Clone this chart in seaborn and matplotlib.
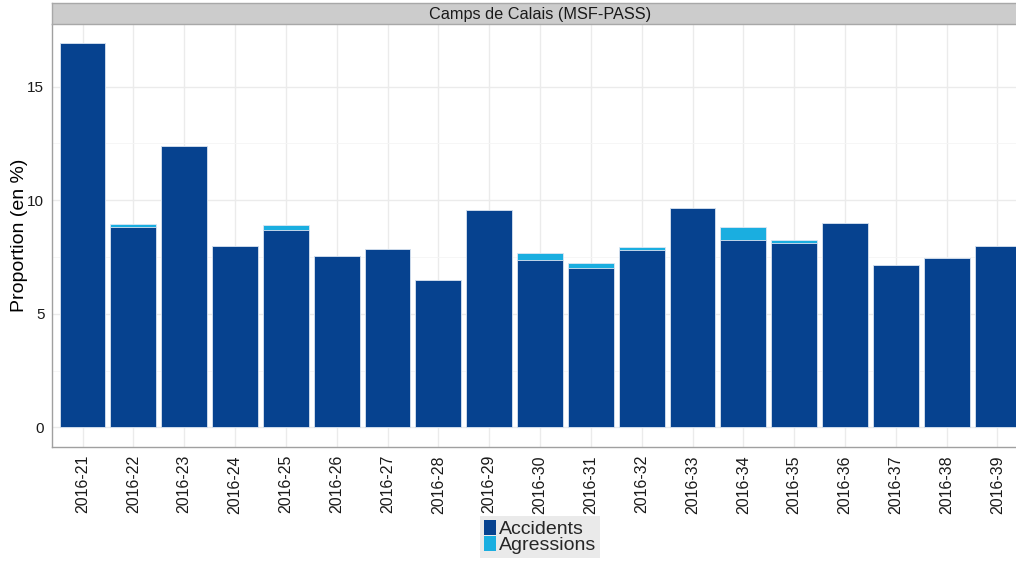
import numpy as np
import pandas as pd
import matplotlib
matplotlib.use("Agg")
import matplotlib.pyplot as plt
import matplotlib.patches as mpatches
import seaborn as sns

# ── Data ───────────────────────────────────────────────────────────────────
weeks = ["2016-21", "2016-22", "2016-23", "2016-24", "2016-25", "2016-26",
         "2016-27", "2016-28", "2016-29", "2016-30", "2016-31", "2016-32",
         "2016-33", "2016-34", "2016-35", "2016-36", "2016-37", "2016-38",
         "2016-39"]
accidents = [16.91, 8.84, 12.37, 7.99, 8.70, 7.54, 7.86, 6.48, 9.57, 7.35,
             7.03, 7.80, 9.67, 8.26, 8.12, 9.00, 7.14, 7.45, 7.98]
agressions = [0.0, 0.12, 0.0, 0.0, 0.20, 0.0, 0.0, 0.0, 0.0, 0.32,
              0.19, 0.15, 0.0, 0.57, 0.15, 0.0, 0.0, 0.0, 0.0]
title = "Camps de Calais (MSF-PASS)"

DARK = "#06428F"
LIGHT = "#1AAEE0"

df = pd.DataFrame({"semaine": weeks, "Accidents": accidents,
                   "Agressions": agressions})
df["total"] = df["Accidents"] + df["Agressions"]

sns.set_theme(style="white")
plt.rcParams["font.family"] = ["Liberation Sans", "DejaVu Sans"]

fig = plt.figure(figsize=(10.16, 5.62), dpi=100)
W, H = 1016, 562
left, right, top, bottom = 52, 1028, 24, 446.7
ax = fig.add_axes([left / W, 1 - bottom / H, (right - left) / W, (bottom - top) / H])

# stacked bars: total (light) underneath, accidents (dark) on top
sns.barplot(data=df, x="semaine", y="total", color=LIGHT, width=0.9,
            saturation=1, edgecolor="#dde6f2", linewidth=0.6, ax=ax, zorder=3)
sns.barplot(data=df, x="semaine", y="Accidents", color=DARK, width=0.9,
            saturation=1, edgecolor="#dde6f2", linewidth=0.6, ax=ax, zorder=4)

ymax = max(df["total"])
pad = ymax * 0.05
ax.set_ylim(-pad, ymax + pad)
ax.set_xlim(-0.6, len(weeks) - 0.4)

# grid in ggplot style
ax.set_yticks([0, 5, 10, 15])
ax.set_yticks([2.5, 7.5, 12.5], minor=True)
ax.grid(True, which="major", color="#EBEBEB", lw=1.0, zorder=0)
ax.grid(True, which="minor", axis="y", color="#F5F5F5", lw=0.6, zorder=0)
ax.set_axisbelow(True)

for s in ["top", "right"]:
    ax.spines[s].set_visible(False)
for s in ["left", "bottom"]:
    ax.spines[s].set_color("#A0A0A0")
    ax.spines[s].set_linewidth(1.0)

ax.tick_params(axis="both", which="major", length=4, width=1, color="#A0A0A0",
               labelcolor="#1A1A1A", pad=2)
ax.tick_params(axis="x", labelsize=11.5)
ax.tick_params(axis="y", labelsize=11, pad=1.5)
ax.tick_params(axis="y", which="minor", length=0)
ax.set_xticks(range(len(weeks)))
ax.set_xticklabels(weeks, rotation=90, va="top", ha="center")
ax.set_xlabel("")
ax.set_ylabel("Proportion (en %)", fontsize=14, color="black")
ax.yaxis.set_label_coords((28 - left) / (right - left), 0.5)

# facet strip
strip = fig.add_axes([left / W, 1 - top / H, (right - left) / W, 21 / H])
strip.set_xticks([]); strip.set_yticks([])
strip.set_facecolor("#CCCCCC")
for s in strip.spines.values():
    s.set_color("#A8A8A8")
    s.set_linewidth(1.0)
strip.text(0.5, 0.45, title, ha="center", va="center", fontsize=11.7,
           color="#1A1A1A", transform=strip.transAxes)

# legend at the bottom
handles = [mpatches.Patch(facecolor=DARK, edgecolor="none", label="Accidents"),
           mpatches.Patch(facecolor=LIGHT, edgecolor="none", label="Agressions")]
leg = fig.legend(handles=handles, loc="center", bbox_to_anchor=(540 / W, 1 - 537 / H),
                 fontsize=14, frameon=True, fancybox=False, borderpad=0.2,
                 labelspacing=-0.1, handlelength=0.65, handleheight=0.8,
                 handletextpad=0.15, borderaxespad=0)
leg.get_frame().set_facecolor("#E5E5E5")
leg.get_frame().set_edgecolor("none")

fig.savefig("out.png", dpi=100)
